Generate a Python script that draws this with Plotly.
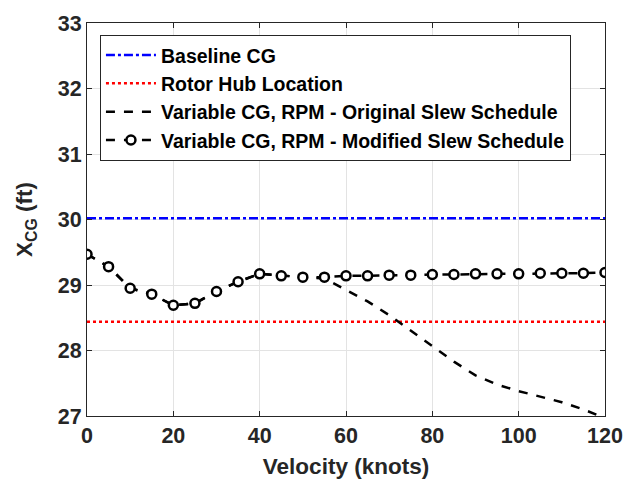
import plotly.graph_objects as go

velocity = [0, 5, 10, 15, 20, 25, 30, 35, 40, 45, 50, 55, 60, 65, 70, 75, 80, 85, 90, 95, 100, 105, 110, 115, 120]
modified = [29.47, 29.28, 28.95, 28.86, 28.69, 28.72, 28.90, 29.05, 29.17, 29.14, 29.12, 29.12, 29.14, 29.14, 29.15, 29.15, 29.16,
            29.16, 29.17, 29.17, 29.17, 29.18, 29.18, 29.18, 29.19]
original = [29.47, 29.28, 28.95, 28.86, 28.69, 28.72, 28.90, 29.05, 29.17, 29.14, 29.12, 29.10, 28.93, 28.75, 28.54, 28.30, 28.06,
            27.83, 27.62, 27.48, 27.38, 27.29, 27.21, 27.10, 26.97]
baseline_cg = 30.02
rotor_hub = 28.44
x_ticks = [0, 20, 40, 60, 80, 100, 120]
y_ticks = [27, 28, 29, 30, 31, 32, 33]

font_family = "Liberation Sans, Arial, sans-serif"

fig = go.Figure()
fig.add_trace(go.Scatter(x=[0, 120], y=[baseline_cg, baseline_cg], mode="lines",
                         line=dict(color="#0000ff", width=2.5, dash="dashdot"), name="<b>Baseline CG</b>"))
fig.add_trace(go.Scatter(x=[0, 120], y=[rotor_hub, rotor_hub], mode="lines",
                         line=dict(color="#ff0000", width=2.5, dash="dot"), name="<b>Rotor Hub Location</b>"))
fig.add_trace(go.Scatter(x=velocity, y=original, mode="lines",
                         line=dict(color="black", width=2.5, dash="dash"),
                         name="<b>Variable CG, RPM - Original Slew Schedule</b>"))
fig.add_trace(go.Scatter(x=velocity, y=modified, mode="lines+markers",
                         line=dict(color="black", width=2.5, dash="dash"),
                         marker=dict(symbol="circle", size=9, color="white", line=dict(color="black", width=2.5)),
                         name="<b>Variable CG, RPM - Modified Slew Schedule</b>"))

axis_common = dict(showline=True, linecolor="#262626", linewidth=1, mirror="ticks", ticks="inside", ticklen=5,
                   tickcolor="#262626", showgrid=True, gridcolor="#e3e3e3", gridwidth=1, zeroline=False,
                   tickfont=dict(family=font_family, size=21.5, color="#262626"))

fig.update_layout(
    width=635, height=487,
    margin=dict(l=87, r=23, t=18, b=69),
    plot_bgcolor="white", paper_bgcolor="white",
    font=dict(family=font_family, color="#262626"),
    showlegend=True,
    legend=dict(x=0.025, y=0.97, xanchor="left", yanchor="top", bgcolor="white",
                bordercolor="#262626", borderwidth=1, font=dict(family=font_family, size=19.5, color="black"),
                tracegroupgap=0, itemwidth=50),
    xaxis=dict(range=[0, 120], tickvals=x_ticks, ticktext=["<b>%d</b>" % v for v in x_ticks],
               title=dict(text="<b>Velocity (knots)</b>", font=dict(family=font_family, size=22.5, color="#262626"), standoff=11),
               **axis_common),
    yaxis=dict(range=[27, 33], tickvals=y_ticks, ticktext=["<b>%d</b>" % v for v in y_ticks],
               title=dict(text="<b>X<sub>CG</sub> (ft)</b>", font=dict(family=font_family, size=22.5, color="#262626"), standoff=18),
               **axis_common),
)

fig.write_html("out.html")
